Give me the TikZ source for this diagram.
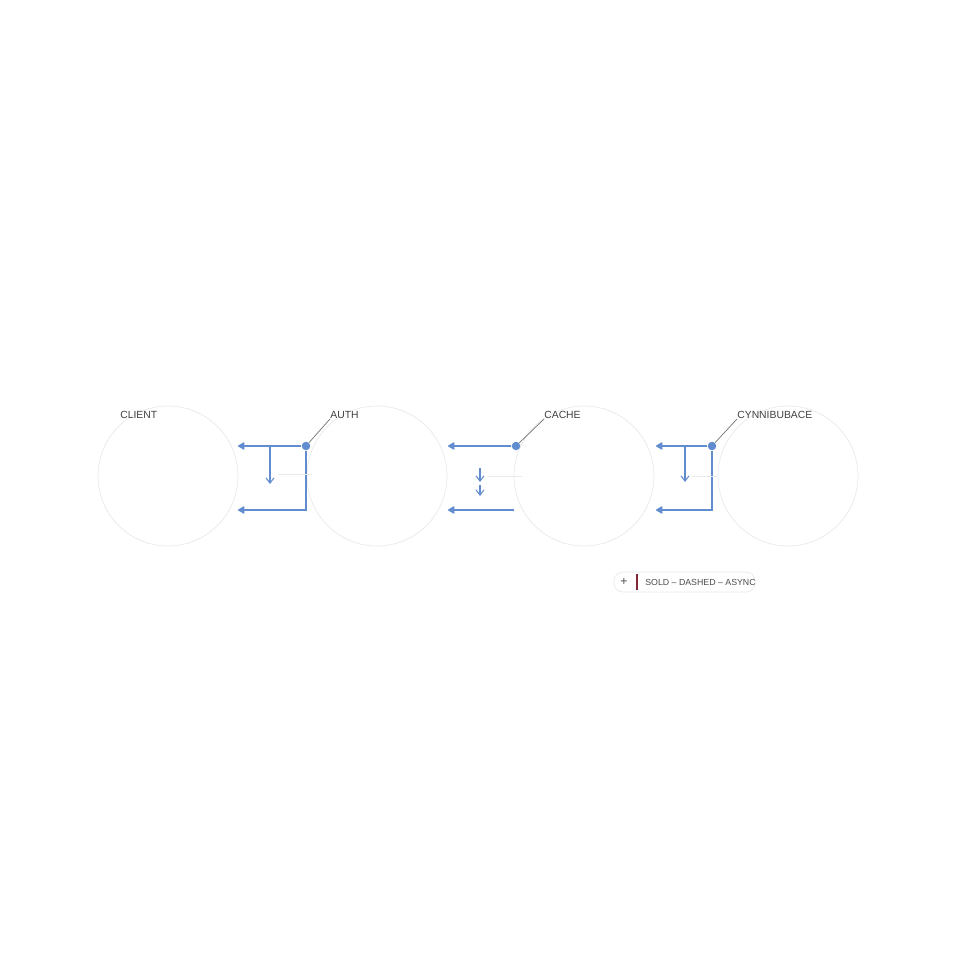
\documentclass[tikz,border=0pt]{standalone}
\usepackage{fontspec}
\setmainfont{Liberation Sans}
\usetikzlibrary{arrows.meta}
\definecolor{linkblue}{RGB}{98,140,208}
\definecolor{ringgray}{RGB}{232,234,236}
\definecolor{barred}{RGB}{128,40,56}
\tikzset{
  ring/.style={circle, draw=ringgray, line width=0.4pt, minimum size=2.8cm, inner sep=0pt},
  tag/.style={font=\fontsize{5.9}{7}\selectfont, text=black!75, inner sep=0pt},
  hub/.style={circle, fill=linkblue, minimum size=0.17cm, inner sep=0pt},
  link/.style={draw=linkblue, line width=0.65pt},
  back/.style={link, -{Triangle[width=4.5pt,length=4pt,round]}},
  drop/.style={draw=linkblue, line width=0.6pt, -{Straight Barb[width=4.5pt,length=3pt]}},
  faint/.style={draw=ringgray, line width=0.4pt},
  leader/.style={draw=black!55, line width=0.4pt}
}
\begin{document}
\begin{tikzpicture}[x=0.02cm, y=-0.02cm]
    \useasboundingbox (0,0) rectangle (960,960);
    \fill [white] (0,0) rectangle (960,960);
    % services
    \node [ring] (client) at (168,476) {};
    \node [ring] (auth) at (377,476) {};
    \node [ring] (cache) at (584,476) {};
    \node [ring] (store) at (788,476) {};
    \node [tag, anchor=west] (clientlbl) at (120,415) {CLIENT};
    \node [tag, anchor=west] (authlbl) at (330,415) {AUTH};
    \node [tag, anchor=west] (cachelbl) at (544,415) {CACHE};
    \node [tag, anchor=west] (storelbl) at (737,415) {CYNNIBUBACE};
    % client <- auth
    \node [hub] (h1) at (306,446) {};
    \coordinate (h1a) at (238,446);
    \coordinate (h1c) at (303,510);
    \coordinate (h1b) at (238,510);
    \coordinate (d1a) at (270,446);
    \coordinate (d1b) at (270,484);
    \draw [leader] (h1) -- (authlbl.south west);
    \draw [back] (h1) -- (h1a);
    \draw [link] (h1) |- (h1c);
    \draw [back] (h1c) -- (h1b);
    \draw [drop] (d1a) -- (d1b);
    \draw [faint] (278,474) -- (312,474);
    % auth <- cache
    \node [hub] (h2) at (516,446) {};
    \coordinate (h2a) at (448,446);
    \coordinate (h2c) at (514,510);
    \coordinate (h2b) at (448,510);
    \draw [leader] (h2) -- (cachelbl.south west);
    \draw [back] (h2) -- (h2a);
    \draw [back] (h2c) -- (h2b);
    \draw [drop] (480,468) -- (480,482);
    \draw [drop] (480,485) -- (480,496);
    \draw [faint] (488,476) -- (522,476);
    % cache <- store
    \node [hub] (h3) at (712,446) {};
    \coordinate (h3a) at (656,446);
    \coordinate (h3c) at (711,510);
    \coordinate (h3b) at (656,510);
    \coordinate (d3a) at (685,446);
    \coordinate (d3b) at (685,482);
    \draw [leader] (h3) -- (storelbl.south west);
    \draw [back] (h3) -- (h3a);
    \draw [link] (h3) |- (h3c);
    \draw [back] (h3c) -- (h3b);
    \draw [drop] (d3a) -- (d3b);
    \draw [faint] (692,476) -- (718,476);
    % legend
    \draw [draw=ringgray, fill=white, rounded corners=5pt] (614,572) rectangle (755,592);
    \node [font=\fontsize{7}{8}\selectfont, text=black!70, inner sep=0pt] (plus) at (624,582) {+};
    \draw [barred, line width=0.8pt] (637,574) -- (637,590);
    \node [font=\fontsize{5}{6}\selectfont, text=black!70, inner sep=0pt, anchor=west] (keytxt) at (645,582) {SOLD – DASHED – ASYNC};
\end{tikzpicture}
\end{document}
